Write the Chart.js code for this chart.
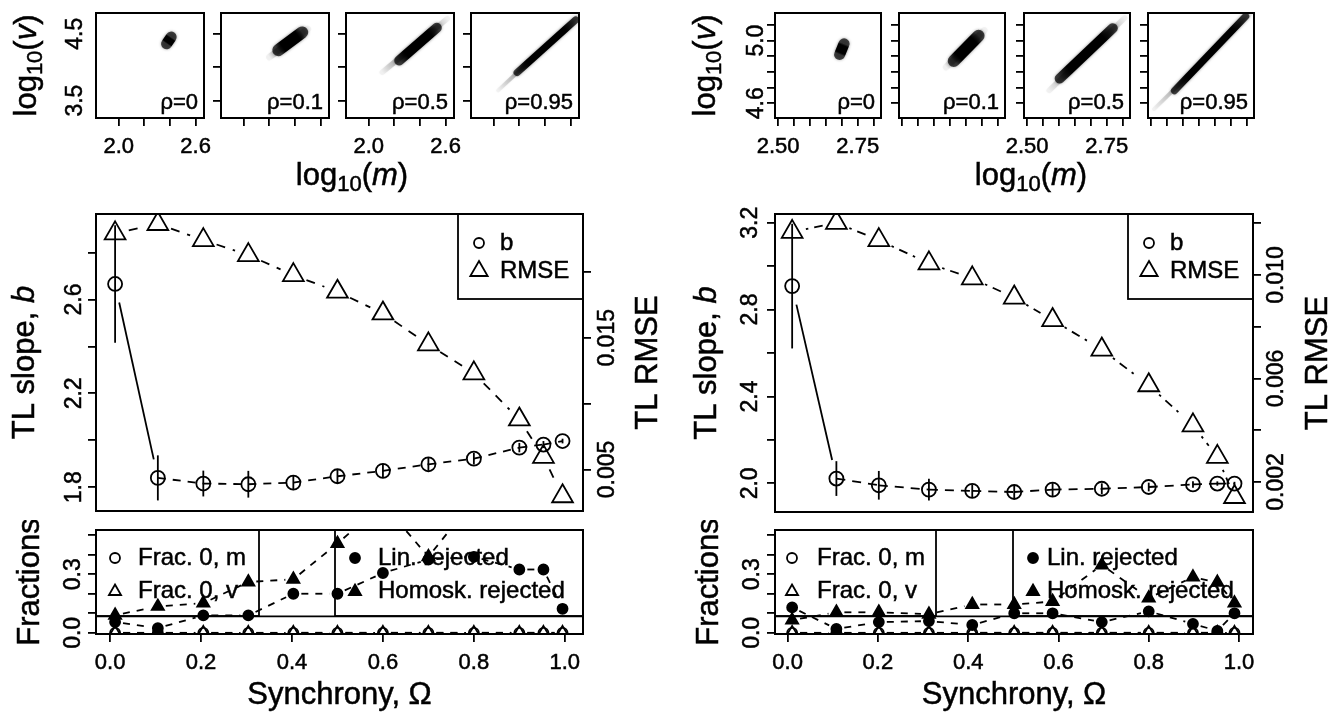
<!DOCTYPE html>
<html>
<head>
<meta charset="utf-8">
<title>Taylor's law slope and synchrony</title>
<script src="https://cdn.jsdelivr.net/npm/chart.js@4.4.1/dist/chart.umd.min.js"></script>
<style>
  html, body { margin: 0; padding: 0; background: #fff; }
  #fig { position: relative; width: 1336px; height: 713px; overflow: hidden; background: #fff; }
  #fig canvas { position: absolute; }
</style>
</head>
<body>
<div id="fig"></div>
<script>
// ---------- simulated log10(mean) / log10(variance) clouds, one per correlation rho ----------
const rhoLabels = ['ρ=0', 'ρ=0.1', 'ρ=0.5', 'ρ=0.95'];
// dense part of each cloud: two ends of its main axis, [log10 m, log10 v]
const cloudCoreLeft = [
  [[2.373, 4.35], [2.409, 4.45]],
  [[2.27, 4.254], [2.456, 4.52]],
  [[2.238, 4.1], [2.531, 4.59]],
  [[2.182, 3.92], [2.639, 4.706]]
];
// sparse outer part of each cloud
const cloudTailLeft = [
  null,
  [[2.2, 4.15], [2.5, 4.57]],
  [[2.105, 3.924], [2.613, 4.725]],
  [[2.035, 3.653], [2.665, 4.78]]
];
const cloudCoreRight = [
  [[2.693, 4.911], [2.707, 4.98]],
  [[2.662, 4.87], [2.74, 5.031]],
  [[2.602, 4.758], [2.769, 5.079]],
  [[2.573, 4.68], [2.797, 5.155]]
];
const cloudTailRight = [
  null,
  [[2.638, 4.83], [2.758, 5.065]],
  [[2.569, 4.682], [2.806, 5.144]],
  [[2.509, 4.563], [2.816, 5.176]]
];

const logMTicksLeft = [2.0, 2.2, 2.4, 2.6];
const logMLabelsLeft = ['2.0', '', '', '2.6'];
const logVTicksLeft = [3.5, 4.0, 4.5];
const logVLabelsLeft = ['3.5', '', '4.5'];
const logMTicksRight = [2.50, 2.55, 2.60, 2.65, 2.70, 2.75, 2.80];
const logMLabelsRight = ['2.50', '', '', '', '', '2.75', ''];
const logVTicksRight = [4.6, 4.7, 4.8, 4.9, 5.0, 5.1];
const logVLabelsRight = ['4.6', '', '', '', '5.0', ''];

// ---------- summaries against synchrony Omega ----------
const omegaLeft = [0.011, 0.105, 0.205, 0.304, 0.403, 0.5, 0.6, 0.7, 0.8, 0.9, 0.953, 0.995];
const omegaRight = [0.01, 0.108, 0.202, 0.313, 0.409, 0.502, 0.587, 0.696, 0.8, 0.898, 0.952, 0.99];

const slopeLeft = [2.666, 1.84, 1.816, 1.813, 1.82, 1.847, 1.87, 1.898, 1.922, 1.969, 1.982, 1.997];
const slopeErrLeft = [0.25, 0.096, 0.055, 0.057, 0.032, 0.03, 0.03, 0.028, 0.025, 0.02, 0.015, 0.01];
const rmseLeft = [0.02293, 0.02364, 0.02242, 0.02128, 0.01976, 0.0185, 0.01685, 0.0145, 0.0123, 0.0088, 0.00596, 0.00297];

const slopeRight = [2.908, 2.022, 1.991, 1.971, 1.965, 1.96, 1.971, 1.975, 1.983, 1.995, 1.999, 1.999];
const slopeErrRight = [0.287, 0.08, 0.066, 0.05, 0.03, 0.03, 0.03, 0.025, 0.02, 0.015, 0.01, 0.008];
const rmseRight = [0.01167, 0.01202, 0.01135, 0.01045, 0.00987, 0.00913, 0.00826, 0.00712, 0.00574, 0.00419, 0.00297, 0.00142];

const slopeTicksLeft = [1.8, 2.0, 2.2, 2.4, 2.6, 2.8];
const slopeLabelsLeft = ['1.8', '', '2.2', '', '2.6', ''];
const rmseTicksLeft = [0.005, 0.01, 0.015, 0.02];
const rmseLabelsLeft = ['0.005', '', '0.015', ''];
const slopeTicksRight = [2.0, 2.2, 2.4, 2.6, 2.8, 3.0, 3.2];
const slopeLabelsRight = ['2.0', '', '2.4', '', '2.8', '', '3.2'];
const rmseTicksRight = [0.002, 0.004, 0.006, 0.008, 0.010, 0.012];
const rmseLabelsRight = ['0.002', '', '0.006', '', '0.010', ''];

const frac0mLeft = [0, 0, 0, 0, 0, 0, 0, 0, 0, 0, 0, 0];
const frac0vLeft = [0, 0, 0, 0, 0, 0, 0, 0, 0, 0, 0, 0];
const linRejLeft = [0.055, 0.024, 0.089, 0.089, 0.2, 0.2, 0.306, 0.375, 0.389, 0.324, 0.324, 0.123];
const homRejLeft = [0.09, 0.135, 0.152, 0.26, 0.274, 0.457, 0.66, 0.389, 0.68, 0.7, 0.7, 0.68];

const frac0mRight = [0, 0, 0, 0, 0, 0, 0, 0, 0, 0, 0, 0];
const frac0vRight = [0, 0, 0, 0, 0, 0, 0, 0, 0, 0, 0, 0];
const linRejRight = [0.13, 0.02, 0.055, 0.06, 0.04, 0.1, 0.1, 0.055, 0.11, 0.046, 0.01, 0.1];
const homRejRight = [0.065, 0.105, 0.105, 0.095, 0.145, 0.145, 0.16, 0.347, 0.178, 0.285, 0.258, 0.152];

const omegaTicks = [0, 0.2, 0.4, 0.6, 0.8, 1.0];
const omegaLabels = ['0.0', '0.2', '0.4', '0.6', '0.8', '1.0'];
const fracTicks = [0, 0.1, 0.2, 0.3, 0.4, 0.5];
const fracLabels = ['0.0', '', '', '0.3', '', ''];
const nominalLevel = 0.084;

// ---------- drawing helpers ----------
const FONT = '"Liberation Sans", Arial, Helvetica, sans-serif';
const INK = '#000';
const LW = 1.8;
const fig = document.getElementById('fig');
const specs = new Map();

const pts = (xs, ys) => xs.map((x, i) => ({ x, y: ys[i] }));
const seg = pair => pair.map(p => ({ x: p[0], y: p[1] }));
const pairLabels = (ticks, labels) => ticks.map((v, i) => [v, labels[i]]).filter(p => p[1] !== '');

function refX(ca, r) { return r === 'l' ? ca.left : r === 'r' ? ca.right : (ca.left + ca.right) / 2; }
function refY(ca, r) { return r === 't' ? ca.top : r === 'b' ? ca.bottom : (ca.top + ca.bottom) / 2; }

// text made of runs: ['text', ''] plain, ['text','i'] italic, ['text','s'] subscript
function drawRich(ctx, parts, x, y, size, rotDeg, align) {
  ctx.save();
  ctx.translate(x, y);
  ctx.rotate((rotDeg || 0) * Math.PI / 180);
  const fontOf = p => (p[1] === 'i' ? 'italic ' : '') + (p[1] === 's' ? Math.round(size * 0.7) : size) + 'px ' + FONT;
  let total = 0;
  const widths = parts.map(p => { ctx.font = fontOf(p); const w = ctx.measureText(p[0]).width; total += w; return w; });
  let cx = align === 'center' ? -total / 2 : align === 'right' ? -total : 0;
  ctx.textBaseline = 'middle';
  ctx.textAlign = 'left';
  ctx.fillStyle = INK;
  ctx.strokeStyle = INK;
  ctx.lineWidth = 0.5;
  parts.forEach((p, i) => {
    ctx.font = fontOf(p);
    const yy = p[1] === 's' ? size * 0.28 : 0;
    ctx.fillText(p[0], cx, yy);
    ctx.strokeText(p[0], cx, yy);
    cx += widths[i];
  });
  ctx.restore();
}

function drawSymbol(ctx, sym, x, y, r, filled) {
  ctx.beginPath();
  if (sym === 'circle') ctx.arc(x, y, r, 0, Math.PI * 2);
  else { ctx.moveTo(x, y - r); ctx.lineTo(x + 0.866 * r, y + 0.5 * r); ctx.lineTo(x - 0.866 * r, y + 0.5 * r); ctx.closePath(); }
  if (filled) { ctx.fillStyle = INK; ctx.fill(); }
  ctx.lineWidth = LW; ctx.strokeStyle = INK; ctx.stroke();
}

// lines joining points, leaving a gap round each symbol
function drawGapLine(chart, meta, g) {
  const ctx = chart.ctx, ca = chart.chartArea, p = meta.data;
  ctx.save();
  ctx.beginPath(); ctx.rect(ca.left, ca.top, ca.width, ca.height); ctx.clip();
  ctx.strokeStyle = INK; ctx.lineWidth = LW;
  for (let i = 0; i + 1 < p.length; i++) {
    const cfg = (i === 0 && g.first) ? g.first : g;
    const dx = p[i + 1].x - p[i].x, dy = p[i + 1].y - p[i].y, L = Math.hypot(dx, dy);
    if (L <= 2 * cfg.gap) continue;
    const ux = dx / L, uy = dy / L;
    ctx.setLineDash(cfg.dash);
    ctx.lineDashOffset = 0;
    ctx.beginPath();
    ctx.moveTo(p[i].x + ux * cfg.gap, p[i].y + uy * cfg.gap);
    ctx.lineTo(p[i + 1].x - ux * cfg.gap, p[i + 1].y - uy * cfg.gap);
    ctx.stroke();
  }
  ctx.restore();
}

const rPlot = {
  id: 'rPlot',
  beforeDatasetsDraw(chart) {
    const sp = specs.get(chart.canvas); if (!sp) return;
    const ctx = chart.ctx, ca = chart.chartArea;
    (sp.legends || []).forEach(lg => {
      const x0 = lg.anchor === 'right' ? ca.right - lg.w : ca.left + lg.dx;
      const y0 = ca.top;
      ctx.save();
      ctx.fillStyle = '#fff'; ctx.fillRect(x0, y0, lg.w, lg.h);
      ctx.lineWidth = LW; ctx.strokeStyle = INK; ctx.strokeRect(x0, y0, lg.w, lg.h);
      lg.items.forEach((it, k) => {
        const y = y0 + lg.row0 + k * lg.rowH;
        drawSymbol(ctx, it.sym, x0 + lg.symX, y, it.r, it.filled);
        drawRich(ctx, [[it.text, '']], x0 + lg.textX, y, lg.size, 0, 'left');
      });
      ctx.restore();
    });
    (sp.hlines || []).forEach(h => {
      const y = chart.scales[h.scale].getPixelForValue(h.value);
      ctx.save(); ctx.strokeStyle = INK; ctx.lineWidth = LW;
      ctx.beginPath(); ctx.moveTo(ca.left, y); ctx.lineTo(ca.right, y); ctx.stroke();
      ctx.restore();
    });
  },
  beforeDatasetDraw(chart, args) {
    const ds = chart.data.datasets[args.index];
    if (ds.gapLine) drawGapLine(chart, args.meta, ds.gapLine);
    if (ds.haze) {
      chart.ctx.save();
      chart.ctx.shadowColor = 'rgba(0,0,0,0.5)';
      chart.ctx.shadowBlur = ds.haze;
    }
  },
  afterDatasetDraw(chart, args) {
    const ds = chart.data.datasets[args.index];
    if (ds.haze) chart.ctx.restore();
  },
  afterDatasetsDraw(chart) {
    const ctx = chart.ctx, ca = chart.chartArea;
    chart.data.datasets.forEach((ds, i) => {
      if (!ds.errorBars) return;
      const meta = chart.getDatasetMeta(i), ys = chart.scales[ds.yAxisID || 'y'];
      ctx.save();
      ctx.beginPath(); ctx.rect(ca.left, ca.top, ca.width, ca.height); ctx.clip();
      ctx.strokeStyle = INK; ctx.lineWidth = LW;
      meta.data.forEach((el, k) => {
        const v = ds.data[k].y, e = ds.errorBars[k];
        ctx.beginPath();
        ctx.moveTo(el.x, ys.getPixelForValue(v - e));
        ctx.lineTo(el.x, ys.getPixelForValue(v + e));
        ctx.stroke();
      });
      ctx.restore();
    });
    const sp = specs.get(chart.canvas);
    if (sp && sp.box) {
      ctx.save(); ctx.strokeStyle = INK; ctx.lineWidth = 2;
      ctx.strokeRect(ca.left, ca.top, ca.width, ca.height);
      ctx.restore();
    }
  },
  afterDraw(chart) {
    const sp = specs.get(chart.canvas); if (!sp) return;
    const ctx = chart.ctx, ca = chart.chartArea;
    (sp.tickLabels || []).forEach(a => {
      const sc = chart.scales[a.scale];
      a.items.forEach(([v, txt]) => {
        const p = sc.getPixelForValue(v);
        if (a.side === 'bottom') drawRich(ctx, [[txt, '']], p, ca.bottom + a.off, a.size, 0, 'center');
        else if (a.side === 'left') drawRich(ctx, [[txt, '']], ca.left - a.off, p, a.size, -90, 'center');
        else drawRich(ctx, [[txt, '']], ca.right + a.off, p, a.size, -90, 'center');
      });
    });
    (sp.texts || []).forEach(t => {
      drawRich(ctx, t.parts, refX(ca, t.x[0]) + t.x[1], refY(ca, t.y[0]) + t.y[1], t.size, t.rot || 0, t.align || 'center');
    });
  }
};
Chart.register(rPlot);

function linAxis(position, range, ticks, showTicks) {
  return {
    type: 'linear', position, min: range[0], max: range[1], display: true,
    afterBuildTicks: s => { s.ticks = ticks.map(v => ({ value: v })); },
    afterFit: s => { if (s.isHorizontal()) s.height = 0; else s.width = 0; },
    ticks: { display: false },
    grid: { display: showTicks, drawOnChartArea: false, drawTicks: true, tickLength: 8, color: INK, lineWidth: LW },
    border: { display: false }
  };
}

function build(rect, m, datasets, scales, spec) {
  const c = document.createElement('canvas');
  const w = Math.round(rect.w + m.l + m.r), h = Math.round(rect.h + m.t + m.b);
  c.width = w; c.height = h;
  c.style.left = (rect.x - m.l) + 'px'; c.style.top = (rect.y - m.t) + 'px';
  c.style.width = w + 'px'; c.style.height = h + 'px';
  fig.appendChild(c);
  specs.set(c, spec);
  return new Chart(c, {
    type: 'scatter',
    data: { datasets },
    options: {
      responsive: false, animation: false, devicePixelRatio: 1, events: [],
      layout: { padding: { left: m.l, right: m.r, top: m.t, bottom: m.b }, autoPadding: false },
      plugins: { legend: { display: false }, tooltip: { enabled: false } },
      scales
    }
  });
}

const LOGV = [['log', ''], ['10', 's'], ['(', ''], ['v', 'i'], [')', '']];
const LOGM = [['log', ''], ['10', 's'], ['(', ''], ['m', 'i'], [')', '']];
const TICK = 22, VTICK = 23, TITLE = 31, LEG = 24;

// ---------- top row: small scatter panels ----------
const cloudWidth = [11, 12, 10, 7];

// stroke shaded along the main axis of a cloud, from its first to its last point
function alongAxis(stops) {
  return c => {
    const ch = c.chart, ds = c.dataset;
    const xs = ch.scales.x, ys = ch.scales.y;
    if (!xs || !ys || !ch.chartArea || !ds) return 'rgba(0,0,0,0.5)';
    const a = ds.data[0], b = ds.data[ds.data.length - 1];
    const g = ch.ctx.createLinearGradient(xs.getPixelForValue(a.x), ys.getPixelForValue(a.y),
                                          xs.getPixelForValue(b.x), ys.getPixelForValue(b.y));
    stops.forEach(s => g.addColorStop(s[0], s[1]));
    return g;
  };
}
const coreShade = [[0, 'rgba(0,0,0,0.7)'], [0.18, 'rgba(0,0,0,1)'], [0.82, 'rgba(0,0,0,1)'], [1, 'rgba(0,0,0,0.7)']];
const tailShade = [[0, 'rgba(0,0,0,0.04)'], [0.5, 'rgba(0,0,0,0.5)'], [1, 'rgba(0,0,0,0.04)']];

function cloudSets(core, tail, w) {
  const sets = [{ data: seg(core), showLine: true, borderColor: alongAxis(coreShade), borderWidth: w,
                  borderCapStyle: 'round', pointRadius: 0, haze: 3 }];
  if (tail) sets.push({ data: seg(tail), showLine: true, borderColor: alongAxis(tailShade), borderWidth: w * 0.55,
                        borderCapStyle: 'round', pointRadius: 0, haze: 2 });
  return sets;
}

const topSides = {
  L: { xs: [96, 221, 346, 471], w: 108, xr: [1.823, 2.665], yr: [3.24, 4.81],
       core: cloudCoreLeft, tail: cloudTailLeft,
       xt: logMTicksLeft, xl: logMLabelsLeft, yt: logVTicksLeft, yl: logVLabelsLeft,
       yOff: 20, firstYTicks: false, titleDx: 23 },
  R: { xs: [775, 899, 1024, 1148], w: 106, xr: [2.49, 2.823], yr: [4.506, 5.176],
       core: cloudCoreRight, tail: cloudTailRight,
       xt: logMTicksRight, xl: logMLabelsRight, yt: logVTicksRight, yl: logVLabelsRight,
       yOff: 18, firstYTicks: true, titleDx: 26 }
};

Object.values(topSides).forEach(S => {
  S.xs.forEach((x0, i) => {
    const spec = { box: true, tickLabels: [], texts: [
      { parts: [[rhoLabels[i], '']], x: ['r', -6], y: ['b', -15], size: TICK, align: 'right' }
    ] };
    if (i === 0 || i === 2) spec.tickLabels.push({ scale: 'x', side: 'bottom', items: pairLabels(S.xt, S.xl), off: 29, size: TICK });
    if (i === 0) {
      spec.tickLabels.push({ scale: 'y', side: 'left', items: pairLabels(S.yt, S.yl), off: S.yOff, size: VTICK });
      spec.texts.push({ parts: LOGV, x: ['l', -69], y: ['m', 0], size: TITLE, rot: -90 });
    }
    if (i === 1) spec.texts.push({ parts: LOGM, x: ['r', S.titleDx], y: ['b', 58], size: TITLE });
    build({ x: x0, y: 13, w: S.w, h: 104.5 }, { l: 88, r: i === 1 ? 140 : 20, t: 12, b: 82 },
      cloudSets(S.core[i], S.tail[i], cloudWidth[i]),
      { x: linAxis('bottom', S.xr, S.xt, true), y: linAxis('left', S.yr, S.yt, i > 0 || S.firstYTicks) },
      spec);
  });
});

// ---------- middle row: TL slope b and RMSE ----------
function slopeChart(rect, omega, slope, err, rmse, xr, yr, y2r, yt, yl, y2t, y2l, rmseDash, bDash, offs) {
  const datasets = [
    { data: pts(omega, slope), yAxisID: 'y', showLine: false,
      gapLine: { gap: 0, dash: bDash, first: { gap: 19, dash: [] } },
      pointStyle: 'circle', pointRadius: 7, pointBorderWidth: LW, pointBorderColor: INK,
      pointBackgroundColor: 'rgba(0,0,0,0)', errorBars: err },
    { data: pts(omega, rmse), yAxisID: 'y2', showLine: false, gapLine: { gap: 14, dash: rmseDash },
      pointStyle: 'triangle', pointRadius: 12, pointBorderWidth: LW, pointBorderColor: INK,
      pointBackgroundColor: 'rgba(0,0,0,0)' }
  ];
  const spec = {
    box: true,
    legends: [{ anchor: 'right', w: 125, h: 85, row0: 29, rowH: 28, symX: 21, textX: 42, size: LEG,
      items: [{ sym: 'circle', r: 5, filled: false, text: 'b' }, { sym: 'triangle', r: 10, filled: false, text: 'RMSE' }] }],
    tickLabels: [
      { scale: 'y', side: 'left', items: pairLabels(yt, yl), off: offs[0], size: VTICK },
      { scale: 'y2', side: 'right', items: pairLabels(y2t, y2l), off: offs[1], size: VTICK }
    ],
    texts: [
      { parts: [['TL slope, ', ''], ['b', 'i']], x: ['l', offs[2]], y: ['m', 0], size: TITLE, rot: -90 },
      { parts: [['TL RMSE', '']], x: ['r', offs[3]], y: ['m', 0], size: TITLE, rot: -90 }
    ]
  };
  build(rect, { l: 90, r: 85, t: 10, b: 12 }, datasets, {
    x: linAxis('bottom', xr, [], false),
    y: linAxis('left', yr, yt, true),
    y2: linAxis('right', y2r, y2t, true)
  }, spec);
}

slopeChart({ x: 96, y: 214, w: 487, h: 297 }, omegaLeft, slopeLeft, slopeErrLeft, rmseLeft,
  [-0.031, 1.04], [1.699, 2.964], [0.00185, 0.0244],
  slopeTicksLeft, slopeLabelsLeft, rmseTicksLeft, rmseLabelsLeft, [9, 8], [8, 7], [21, 25, -71, 65]);
slopeChart({ x: 775, y: 214, w: 478, h: 298 }, omegaRight, slopeRight, slopeErrRight, rmseRight,
  [-0.028, 1.031], [1.868, 3.24], [0.00084, 0.01236],
  slopeTicksRight, slopeLabelsRight, rmseTicksRight, rmseLabelsRight, [2.5, 6, 9, 6], [9, 7], [24, 24, -68, 65]);

// ---------- bottom row: fractions ----------
function fracChart(rect, omega, f0m, f0v, lin, hom, xr, legs) {
  const gl = { gap: 8, dash: [7, 7] };
  const sym = (data, style, r, filled) => ({
    data, showLine: false, gapLine: gl, pointStyle: style, pointRadius: r, pointBorderWidth: LW,
    pointBorderColor: INK, pointBackgroundColor: filled ? INK : 'rgba(0,0,0,0)'
  });
  const datasets = [
    sym(pts(omega, lin), 'circle', 5, true),
    sym(pts(omega, hom), 'triangle', 7, true),
    sym(pts(omega, f0m), 'circle', 5, false),
    sym(pts(omega, f0v), 'triangle', 7, false)
  ];
  const lgBase = { h: 86, row0: 28, rowH: 33.5, size: LEG };
  const spec = {
    box: true,
    hlines: [{ scale: 'y', value: nominalLevel }],
    legends: [
      Object.assign({}, lgBase, { dx: 0, w: legs[0], symX: legs[2], textX: 42,
        items: [{ sym: 'circle', r: 5, filled: false, text: 'Frac. 0, m' }, { sym: 'triangle', r: 7, filled: false, text: 'Frac. 0, v' }] }),
      Object.assign({}, lgBase, { dx: legs[1], w: rect.w - legs[1], symX: 20, textX: legs[3],
        items: [{ sym: 'circle', r: 5, filled: true, text: 'Lin. rejected' }, { sym: 'triangle', r: 7, filled: true, text: 'Homosk. rejected' }] })
    ],
    tickLabels: [
      { scale: 'x', side: 'bottom', items: pairLabels(omegaTicks, omegaLabels), off: 28.5, size: TICK },
      { scale: 'y', side: 'left', items: pairLabels(fracTicks, fracLabels), off: 22, size: VTICK }
    ],
    texts: [
      { parts: [['Synchrony, Ω', '']], x: ['c', 0], y: ['b', 61], size: TITLE },
      { parts: [['Fractions', '']], x: ['l', -66], y: ['m', 0], size: TITLE, rot: -90 }
    ]
  };
  build(rect, { l: 90, r: 30, t: 10, b: 79 }, datasets, {
    x: linAxis('bottom', xr, omegaTicks, true),
    y: linAxis('left', [-0.006, 0.526], fracTicks, true)
  }, spec);
}

fracChart({ x: 96, y: 530, w: 487, h: 103.5 }, omegaLeft, frac0mLeft, frac0vLeft, linRejLeft, homRejLeft,
  [-0.031, 1.04], [163, 239, 19, 43]);
fracChart({ x: 775, y: 530, w: 478, h: 103.5 }, omegaRight, frac0mRight, frac0vRight, linRejRight, homRejRight,
  [-0.028, 1.031], [161, 238, 17, 34]);
</script>
</body>
</html>
